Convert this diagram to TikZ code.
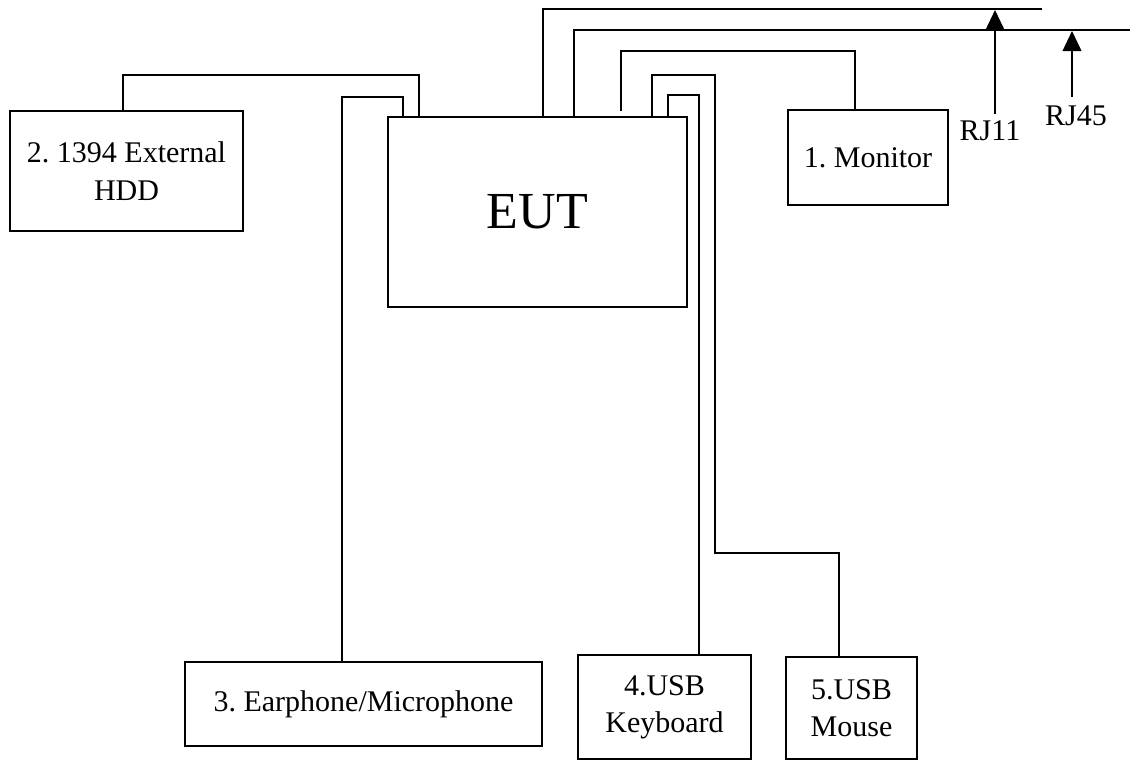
\documentclass[tikz,border=0pt]{standalone}
\usepackage{fontspec}
\setmainfont{Liberation Serif}
\usetikzlibrary{arrows.meta,calc}
\frenchspacing
\begin{document}
\begin{tikzpicture}[x=0.75pt,y=-0.75pt,
  box/.style={draw,line width=1.3pt,inner sep=0pt,align=center,font=\fontsize{22.5}{28}\selectfont},
  wire/.style={line width=1.3pt},
  arr/.style={line width=1.3pt,-{Triangle[width=14pt,length=15pt]}},
  lbl/.style={font=\fontsize{22.5}{28}\selectfont,inner sep=0pt}]
\useasboundingbox (0,0) rectangle (1130,760);
% boxes
\node[box,minimum width=174.75pt,minimum height=90pt] (hdd) at (126.5,171) {2. 1394 External\\HDD};
\node[box,minimum width=224.25pt,minimum height=142.5pt,font=\fontsize{39}{44}\selectfont] (eut) at (537.5,212) {EUT};
\node[box,minimum width=120pt,minimum height=71.25pt] (mon) at (868,157.5) {1. Monitor};
\node[box,minimum width=267.75pt,minimum height=63pt] (ear) at (363.5,704) {3. Earphone/Microphone};
\node[box,minimum width=129.75pt,minimum height=78pt] (kbd) at (664.5,707) {4.USB\\Keyboard};
\node[box,minimum width=98.25pt,minimum height=76.5pt] (mouse) at (851.5,708) {5.USB\\Mouse};
% labels
\node[lbl] (rj11) at (990,131) {RJ11};
\node[lbl] (rj45) at (1076,116) {RJ45};
% free ends of network lines
\coordinate (rj11end) at (1042,9);
\coordinate (rj45end) at (1130,30);
% connectors
\draw[wire] (123,0 |- hdd.north) -- (123,75) -- (419,75) -- (419,0 |- eut.north);
\draw[wire] (342,0 |- ear.north) -- (342,97) -- (403,97) -- (403,0 |- eut.north);
\draw[wire] (543,0 |- eut.north) -- (543,9) -- (rj11end);
\draw[wire] (574,0 |- eut.north) -- (574,30) -- (rj45end);
\draw[wire] ($(621,0 |- eut.north)+(0,-5)$) -- (621,51) -- (855,51) -- (855,0 |- mon.north);
\draw[wire] (652,0 |- eut.north) -- (652,75) -- (715,75) -- (715,553) -- (839,553) -- (839,0 |- mouse.north);
\draw[wire] (668,0 |- eut.north) -- (668,95) -- (699,95) -- (699,0 |- kbd.north);
% arrows
\draw[arr] (995,0 |- rj11.north) ++(0,-7) -- (995,10);
\draw[arr] (1072,0 |- rj45.north) ++(0,-9) -- (1072,31);
\end{tikzpicture}
\end{document}
